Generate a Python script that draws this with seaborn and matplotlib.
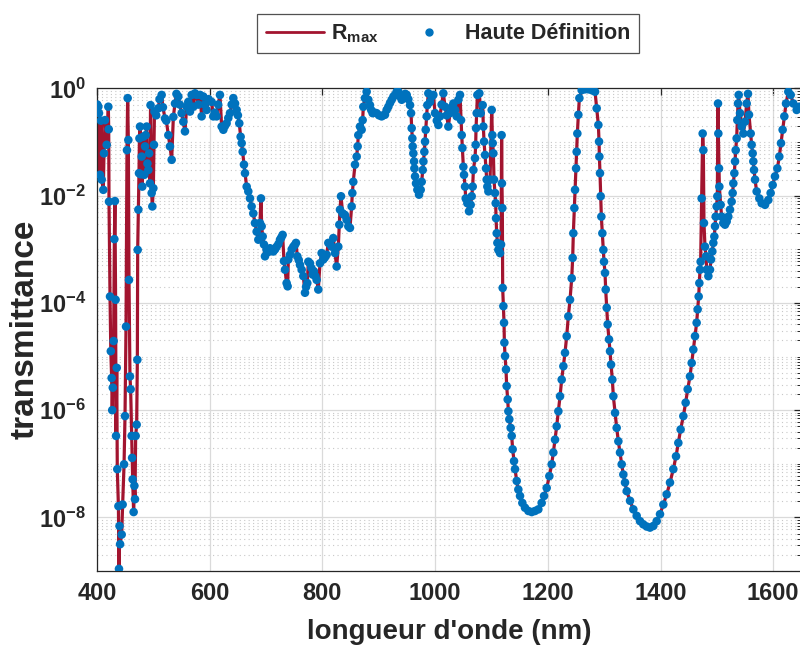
import numpy as np
import pandas as pd
import seaborn as sns
import matplotlib.pyplot as plt
from matplotlib.lines import Line2D
from matplotlib.ticker import FixedLocator, FuncFormatter, NullLocator, NullFormatter

# longueur d'onde (nm) et log10(transmittance), par bande
wl_400_600 = [400.5, 402.4, 403.5, 405.3, 407.0, 408.3, 411.2, 412.4, 414.2, 417.2,
              420.1, 420.8, 421.3, 423.1, 424.5, 426.0, 427.0, 428.0, 429.5, 430.8,
              431.8, 433.0, 433.8, 435.0, 436.0, 438.0, 439.0, 440.0, 441.0, 443.8,
              445.5, 448.0, 449.7, 451.5, 453.2, 454.4, 455.6, 456.8, 458.5, 459.7,
              461.5, 462.3, 463.3, 465.0, 466.3, 467.4, 468.6, 470.4, 471.6, 472.2,
              473.4, 474.5, 475.3, 476.3, 477.5, 479.3, 480.4, 482.0, 484.0, 485.2,
              486.4, 488.1, 489.5, 491.1, 492.5, 494.0, 495.0, 497.0, 498.2, 500.0,
              501.1, 502.0, 505.0, 508.8, 511.0, 514.7, 517.0, 520.7, 523.0, 526.6,
              529.5, 532.5, 535.5, 538.4, 541.0, 544.3, 547.0, 550.2, 553.2, 556.1,
              559.1, 562.0, 565.0, 568.0, 571.0, 574.0, 576.8, 580.0, 583.0, 585.7,
              588.7, 591.0, 594.6, 598.0]
lt_400_600 = [-0.30, -0.34, -0.46, -1.61, -0.60, -1.70, -1.89, -1.21, -0.59, -1.05,
              -0.34, -0.76, -2.11, -3.88, -4.90, -5.40, -6.00, -5.58, -4.71, -2.81,
              -2.10, -3.94, -6.48, -5.21, -7.10, -7.79, -8.96, -8.16, -8.50, -8.32,
              -7.76, -7.01, -6.11, -4.44, -1.15, -0.18, -0.96, -3.57, -5.37, -5.61,
              -6.48, -6.89, -7.29, -7.90, -7.41, -7.66, -6.48, -6.27, -5.06, -3.01,
              -2.26, -1.58, -0.93, -0.71, -1.60, -1.27, -1.83, -0.90, -1.61, -1.08,
              -0.87, -0.71, -1.40, -1.52, -1.21, -1.77, -0.31, -1.95, -2.20, -1.86,
              -1.05, -0.43, -0.50, -0.37, -0.20, -0.12, -0.35, -0.56, -0.60, -0.87,
              -1.08, -1.33, -0.53, -0.28, -0.10, -0.15, -0.30, -0.46, -0.62, -0.80,
              -0.34, -0.25, -0.43, -0.12, -0.34, -0.09, -0.12, -0.30, -0.12, -0.52,
              -0.15, -0.30, -0.40, -0.20]

wl_600_935 = [603.4, 606.4, 609.0, 612.3, 615.0, 618.2, 621.2, 624.2, 627.0, 630.0,
              633.0, 636.0, 639.0, 641.9, 645.0, 647.8, 650.0, 652.5, 654.9, 656.7,
              658.5, 660.8, 662.6, 665.6, 668.5, 671.5, 674.4, 677.4, 680.3, 683.3,
              686.3, 689.2, 691.0, 692.2, 694.0, 696.3, 698.1, 701.0, 704.0, 707.0,
              710.0, 712.9, 716.0, 718.8, 722.0, 724.7, 727.0, 729.4, 731.8, 733.6,
              736.5, 738.3, 739.5, 742.5, 745.5, 748.4, 751.0, 753.1, 755.5, 758.0,
              760.2, 763.2, 766.1, 769.1, 771.0, 773.2, 775.0, 778.0, 780.5, 782.7,
              785.0, 787.5, 789.8, 792.7, 795.7, 798.6, 801.6, 804.5, 807.5, 810.5,
              813.5, 816.4, 819.3, 822.3, 825.3, 828.2, 830.0, 831.2, 833.0, 835.9,
              838.0, 840.0, 843.0, 846.0, 848.9, 851.9, 853.1, 854.8, 857.8, 860.8,
              862.5, 863.7, 866.7, 869.6, 871.4, 872.6, 875.5, 878.5, 881.5, 884.4,
              886.5, 889.1, 892.5, 896.2, 900.5, 905.1, 908.0, 911.0, 914.0, 917.0,
              920.0, 923.0, 926.0, 928.8, 931.8, 934.7]
lt_600_935 = [-0.25, -0.52, -0.45, -0.52, -0.30, -0.12, -0.71, -0.77, -0.70, -0.65,
              -0.55, -0.46, -0.30, -0.18, -0.28, -0.40, -0.50, -0.65, -0.90, -1.02,
              -1.18, -1.42, -1.58, -1.83, -1.92, -2.05, -2.20, -2.33, -2.51, -2.67,
              -2.82, -2.51, -2.05, -2.57, -2.76, -2.91, -3.13, -3.01, -3.05, -2.98,
              -3.00, -3.04, -3.00, -2.95, -2.90, -2.82, -2.78, -2.73, -3.22, -3.38,
              -3.63, -3.69, -3.19, -3.10, -3.00, -2.95, -2.92, -2.88, -3.13, -3.20,
              -3.29, -3.38, -3.50, -3.81, -3.70, -3.63, -3.23, -3.26, -3.35, -3.47,
              -3.41, -3.50, -3.57, -3.75, -3.26, -3.07, -3.19, -3.15, -3.10, -2.88,
              -2.90, -2.95, -2.79, -3.07, -3.32, -2.95, -2.54, -2.26, -2.01, -2.33,
              -2.35, -2.36, -2.45, -2.57, -2.60, -2.20, -1.95, -1.74, -1.42, -1.27,
              -1.08, -0.87, -0.71, -0.77, -0.59, -0.34, -0.18, -0.06, -0.21, -0.31,
              -0.40, -0.46, -0.45, -0.46, -0.50, -0.52, -0.50, -0.49, -0.40, -0.34,
              -0.27, -0.21, -0.15, -0.12, -0.06, -0.06]

wl_935_1122 = [938.0, 940.7, 944.0, 947.0, 949.6, 952.5, 955.5, 957.3, 958.4, 959.6,
               960.2, 961.4, 962.6, 963.2, 964.4, 966.1, 968.5, 971.5, 974.4, 976.2,
               978.0, 979.2, 980.9, 982.1, 983.3, 985.1, 986.2, 988.0, 991.0, 994.0,
               996.9, 999.9, 1003.0, 1005.8, 1008.7, 1011.5, 1014.6, 1017.6, 1020.5, 1023.5,
               1026.5, 1029.5, 1032.4, 1035.5, 1038.3, 1041.3, 1044.2, 1046.0, 1047.2, 1048.4,
               1050.1, 1051.3, 1053.1, 1054.3, 1057.2, 1060.2, 1063.1, 1064.9, 1066.7, 1067.9,
               1070.8, 1072.0, 1072.6, 1073.8, 1075.0, 1078.5, 1080.9, 1084.4, 1085.6, 1086.8,
               1088.6, 1090.3, 1091.5, 1092.7, 1094.5, 1097.5, 1100.4, 1101.6, 1102.2, 1103.4,
               1104.5, 1106.3, 1107.5, 1108.1, 1109.3, 1110.5, 1112.2, 1115.2, 1117.0, 1118.0,
               1118.6, 1119.3, 1119.9, 1121.1]
lt_935_1122 = [-0.15, -0.21, -0.15, -0.10, -0.12, -0.20, -0.31, -0.46, -0.74, -0.93,
               -1.08, -1.21, -1.36, -1.49, -1.64, -1.77, -1.89, -1.98, -1.89, -1.74,
               -1.52, -1.36, -1.18, -0.99, -0.77, -0.52, -0.31, -0.09, -0.25, -0.15,
               -0.12, -0.46, -0.60, -0.68, -0.52, -0.30, -0.09, -0.34, -0.50, -0.71,
               -0.46, -0.35, -0.28, -0.40, -0.52, -0.21, -0.12, -0.59, -0.87, -1.11,
               -1.46, -1.61, -1.83, -2.05, -2.14, -2.29, -2.17, -2.01, -1.83, -1.52,
               -1.30, -1.05, -0.74, -0.46, -0.12, -0.09, -0.46, -0.31, -0.71, -0.99,
               -1.24, -1.49, -1.70, -1.83, -1.92, -1.70, -0.40, -0.87, -1.02, -1.21,
               -1.70, -1.95, -2.14, -2.42, -2.70, -2.88, -3.01, -3.07, -2.91, -0.87,
               -1.77, -2.23, -3.72, -4.06]

wl_1122_1300 = [1122.3, 1122.9, 1124.1, 1125.8, 1127.0, 1128.8, 1130.0, 1131.7, 1134.1, 1135.9,
                1137.6, 1140.0, 1141.8, 1144.8, 1147.7, 1150.7, 1154.8, 1159.5, 1165.5, 1171.4,
                1177.3, 1183.2, 1189.1, 1193.3, 1198.0, 1202.7, 1206.9, 1209.8, 1212.8, 1215.7,
                1218.7, 1221.7, 1224.6, 1227.6, 1230.5, 1233.5, 1236.4, 1239.4, 1242.4, 1244.1,
                1245.3, 1247.1, 1248.3, 1250.1, 1251.2, 1252.4, 1254.2, 1256.0, 1260.1, 1266.0,
                1272.0, 1277.9, 1283.8, 1286.7, 1289.7, 1290.9, 1291.5, 1292.6, 1293.8, 1295.0,
                1296.8, 1298.6, 1299.7]
lt_1122_1300 = [-4.37, -4.74, -4.99, -5.24, -5.55, -5.80, -6.02, -6.17, -6.33, -6.48,
                -6.73, -6.95, -7.10, -7.32, -7.48, -7.60, -7.73, -7.82, -7.88, -7.90,
                -7.88, -7.85, -7.73, -7.60, -7.45, -7.23, -7.01, -6.79, -6.55, -6.30,
                -6.02, -5.74, -5.43, -5.18, -4.93, -4.62, -4.25, -3.94, -3.54, -3.16,
                -2.70, -2.23, -1.89, -1.49, -1.18, -0.84, -0.49, -0.18, -0.03, -0.015,
                -0.015, -0.03, -0.06, -0.37, -0.68, -0.99, -1.27, -1.58, -2.01, -2.39,
                -2.70, -3.01, -3.23]

wl_1300_1650 = [1301.5, 1302.7, 1304.5, 1306.2, 1308.6, 1310.4, 1312.2, 1314.5, 1316.3, 1319.3,
                1322.2, 1325.2, 1328.1, 1331.1, 1334.0, 1337.0, 1340.0, 1345.9, 1351.8, 1357.7,
                1363.6, 1369.5, 1375.4, 1381.3, 1387.2, 1393.2, 1399.1, 1405.0, 1410.9, 1416.8,
                1422.7, 1427.5, 1431.6, 1435.7, 1440.5, 1444.6, 1448.2, 1452.3, 1455.3, 1458.2,
                1461.2, 1464.1, 1465.9, 1467.7, 1468.9, 1470.1, 1471.2, 1473.0, 1474.8, 1476.0,
                1477.1, 1478.9, 1480.7, 1481.9, 1484.9, 1487.8, 1489.6, 1491.9, 1493.7, 1495.5,
                1496.7, 1497.9, 1499.6, 1500.8, 1502.0, 1502.6, 1503.8, 1504.4, 1506.7, 1508.5,
                1511.4, 1514.4, 1517.4, 1520.3, 1523.3, 1526.2, 1528.0, 1529.2, 1531.0, 1532.2,
                1533.4, 1535.1, 1536.3, 1537.5, 1538.7, 1541.1, 1544.0, 1547.0, 1549.9, 1552.9,
                1555.2, 1557.0, 1560.0, 1561.7, 1563.5, 1564.7, 1565.9, 1567.7, 1570.6, 1575.3,
                1579.5, 1585.4, 1591.3, 1595.4, 1599.0, 1603.1, 1607.3, 1610.8, 1613.8, 1616.7,
                1619.7, 1622.7, 1626.8, 1631.0, 1635.7, 1641.6, 1646.3]
lt_1300_1650 = [-3.44, -3.75, -4.09, -4.40, -4.68, -4.90, -5.15, -5.43, -5.74, -6.05,
                -6.33, -6.58, -6.79, -7.01, -7.20, -7.35, -7.51, -7.69, -7.85, -7.97,
                -8.07, -8.13, -8.17, -8.19, -8.16, -8.07, -7.94, -7.76, -7.57, -7.35,
                -7.10, -6.86, -6.61, -6.36, -6.11, -5.86, -5.61, -5.37, -5.12, -4.87,
                -4.62, -4.37, -4.12, -3.88, -3.63, -3.38, -3.23, -2.05, -0.84, -1.15,
                -2.51, -2.95, -3.13, -3.38, -3.50, -3.38, -3.19, -3.04, -2.88, -2.76,
                -2.57, -2.39, -2.20, -2.01, -0.28, -0.84, -1.49, -1.83, -2.17, -2.39,
                -2.51, -2.54, -2.48, -2.39, -2.26, -2.11, -1.95, -1.77, -1.58, -1.36,
                -1.15, -0.93, -0.59, -0.28, -0.12, -0.46, -0.71, -0.84, -0.62, -0.28,
                -0.10, -0.49, -0.84, -1.05, -1.21, -1.36, -1.52, -1.70, -1.92, -2.05,
                -2.14, -2.17, -2.08, -1.95, -1.80, -1.64, -1.49, -1.27, -1.02, -0.77,
                -0.52, -0.28, -0.06, -0.12, -0.28, -0.40, -0.34]

x_ticks = [400, 600, 800, 1000, 1200, 1400, 1600]
y_ticks = [1e-8, 1e-6, 1e-4, 1e-2, 1e0]

wl = np.concatenate([wl_400_600, wl_600_935, wl_935_1122, wl_1122_1300, wl_1300_1650])
lt = np.concatenate([lt_400_600, lt_600_935, lt_935_1122, lt_1122_1300, lt_1300_1650])
df = pd.DataFrame({'wl': wl, 'T': 10.0 ** lt})

red = '#A2142F'
blue = '#0072BD'
dark = '#262626'

sns.set_style('white')
plt.rcParams['font.family'] = ['Liberation Sans', 'DejaVu Sans']
plt.rcParams['font.weight'] = 'bold'
plt.rcParams['mathtext.fontset'] = 'custom'
plt.rcParams['mathtext.rm'] = 'Liberation Sans:bold'
plt.rcParams['mathtext.bf'] = 'Liberation Sans:bold'
plt.rcParams['mathtext.it'] = 'Liberation Sans:bold'

fig = plt.figure(figsize=(8, 6.45), dpi=100)
ax = fig.add_axes([0.12125, 0.1147, 0.8805, 0.7481])

sns.lineplot(data=df, x='wl', y='T', ax=ax, color=red, lw=2.3, sort=False,
             estimator=None, legend=False, zorder=2)
sns.scatterplot(data=df, x='wl', y='T', ax=ax, color=blue, s=38, edgecolor='none',
                linewidth=0, legend=False, zorder=3)

ax.set_yscale('log')
ax.set_xlim(400, 1650)
ax.set_ylim(1e-9, 1)

ax.xaxis.set_major_locator(FixedLocator(x_ticks))
ax.xaxis.set_minor_locator(NullLocator())
ax.yaxis.set_major_locator(FixedLocator(y_ticks))
minor_y = [k * 10.0 ** n for n in range(-9, 0) for k in range(1, 10)
           if not (k == 1 and n % 2 == 0)]
ax.yaxis.set_minor_locator(FixedLocator(minor_y))
ax.yaxis.set_major_formatter(FuncFormatter(
    lambda v, p: r'$\mathbf{10^{%d}}$' % int(round(np.log10(v)))))
ax.yaxis.set_minor_formatter(NullFormatter())

ax.grid(True, which='major', color='#DADADA', lw=0.9, ls='-')
ax.grid(True, which='minor', axis='y', color='#C8C8C8', lw=0.8, ls=(0, (1, 3)))
ax.set_axisbelow(True)

for s in ax.spines.values():
    s.set_visible(True)
    s.set_color(dark)
    s.set_linewidth(0.9)

ax.tick_params(which='both', direction='in', top=True, right=True, color=dark)
ax.tick_params(which='major', length=5, width=0.9, labelsize=17, pad=8)
ax.tick_params(which='minor', length=3, width=0.7)
for lab in ax.get_xticklabels():
    lab.set_fontweight('bold')

ax.set_xlabel("longueur d'onde (nm)", fontsize=20, fontweight='bold')
ax.set_ylabel('transmittance', fontsize=24, fontweight='bold')
ax.xaxis.set_label_coords(0.5, -0.10)
ax.yaxis.set_label_coords(-0.08, 0.5)

handles = [Line2D([], [], color=red, lw=2),
           Line2D([], [], ls='none', marker='o', color=blue, markersize=5)]
labels = [r'$\mathbf{R_{max}}$', 'Haute Définition']
leg = fig.legend(handles, labels, loc='center', bbox_to_anchor=(0.56, 0.948), ncol=2,
                 frameon=True, fancybox=False, edgecolor=dark, fontsize=15.5,
                 handlelength=2.7, handletextpad=0.3, columnspacing=1.0, borderpad=0.4)
leg.get_frame().set_linewidth(0.9)

fig.savefig('out.png', dpi=100)
